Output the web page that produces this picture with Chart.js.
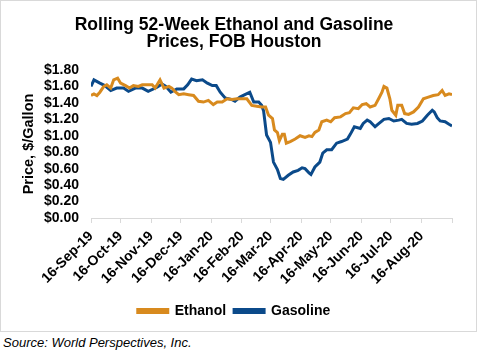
<!DOCTYPE html>
<html>
<head>
<meta charset="utf-8">
<script src="https://cdn.jsdelivr.net/npm/chart.js@4.4.0/dist/chart.umd.min.js"></script>
<style>
  body { margin: 0; background: #fff; }
  #frame { position: absolute; left: 0; top: 0; width: 477px; height: 332px; border: 1px solid #d9d9d9; box-sizing: border-box; }
  #wrap { position: absolute; left: 0; top: 0; width: 475px; height: 330px; }
  #source { position: absolute; left: 3px; top: 335px; font: italic 13px "Liberation Sans", Arial, sans-serif; line-height: 15px; color: #000; }
</style>
</head>
<body>
<div id="frame"><div id="wrap"><canvas id="priceChart"></canvas></div></div>
<div id="source">Source: World Perspectives, Inc.</div>
<script>
// x values are days since 16-Sep-2019
const startDate = Date.UTC(2019, 8, 16);

const tickDates = ['2019-09-16', '2019-10-16', '2019-11-16', '2019-12-16', '2020-01-16', '2020-02-16',
  '2020-03-16', '2020-04-16', '2020-05-16', '2020-06-16', '2020-07-16', '2020-08-16', '2020-09-16'];
const tickLabels = ['16-Sep-19', '16-Oct-19', '16-Nov-19', '16-Dec-19', '16-Jan-20', '16-Feb-20',
  '16-Mar-20', '16-Apr-20', '16-May-20', '16-Jun-20', '16-Jul-20', '16-Aug-20', ''];

const ethanolDays = [0, 3, 6, 9, 13, 16, 20, 23, 27, 30, 35, 39, 43, 48, 52, 57, 62, 65, 70, 74, 79, 82, 85, 89,
  94, 99, 104, 109, 114, 119, 124, 128, 133, 138, 143, 148, 153, 158, 163, 168, 173, 177, 180, 184, 186, 189,
  191, 194, 196, 198, 202, 207, 212, 217, 221, 224, 227, 231, 234, 239, 243, 247, 253, 258, 262, 266, 271,
  275, 279, 283, 288, 292, 295, 297, 300, 303, 305, 309, 311, 315, 318, 322, 327, 332, 337, 342, 347, 352,
  356, 359, 363, 366];
const ethanolPrice = [1.49, 1.51, 1.49, 1.53, 1.60, 1.62, 1.58, 1.68, 1.70, 1.64, 1.61, 1.58, 1.61, 1.60, 1.62,
  1.62, 1.62, 1.58, 1.68, 1.58, 1.60, 1.58, 1.54, 1.50, 1.51, 1.50, 1.49, 1.42, 1.41, 1.43, 1.38, 1.41, 1.41,
  1.45, 1.44, 1.45, 1.45, 1.45, 1.37, 1.36, 1.35, 1.35, 1.25, 1.21, 1.07, 1.04, 0.94, 1.02, 1.02, 0.91, 0.93,
  0.96, 1.00, 0.98, 1.00, 0.99, 1.04, 1.07, 1.17, 1.19, 1.17, 1.22, 1.23, 1.27, 1.28, 1.34, 1.33, 1.38, 1.39,
  1.35, 1.37, 1.46, 1.53, 1.60, 1.58, 1.45, 1.31, 1.25, 1.37, 1.37, 1.27, 1.26, 1.29, 1.35, 1.45, 1.47, 1.49,
  1.50, 1.55, 1.49, 1.51, 1.50];

const gasolineDays = [0, 3, 9, 14, 20, 26, 33, 38, 45, 52, 58, 67, 72, 76, 81, 87, 94, 98, 102, 107, 113, 118,
  123, 127, 131, 136, 143, 146, 151, 156, 161, 165, 170, 173, 175, 178, 182, 185, 189, 192, 195, 200, 205, 210,
  214, 217, 221, 223, 227, 232, 235, 239, 244, 249, 254, 260, 263, 267, 273, 276, 280, 283, 288, 292, 297, 302,
  307, 312, 315, 320, 325, 331, 336, 341, 346, 348, 351, 354, 359, 363, 366];
const gasolinePrice = [1.60, 1.68, 1.64, 1.61, 1.55, 1.58, 1.58, 1.54, 1.58, 1.58, 1.54, 1.59, 1.63, 1.60, 1.53,
  1.57, 1.57, 1.62, 1.69, 1.67, 1.68, 1.64, 1.61, 1.61, 1.53, 1.46, 1.44, 1.42, 1.47, 1.50, 1.53, 1.41, 1.41,
  1.37, 1.30, 1.01, 0.92, 0.68, 0.59, 0.48, 0.47, 0.52, 0.56, 0.58, 0.61, 0.60, 0.55, 0.53, 0.62, 0.68, 0.79,
  0.83, 0.83, 0.91, 0.93, 0.96, 1.02, 1.11, 1.09, 1.15, 1.19, 1.17, 1.11, 1.15, 1.20, 1.21, 1.18, 1.19, 1.20,
  1.15, 1.14, 1.15, 1.18, 1.25, 1.31, 1.29, 1.22, 1.18, 1.17, 1.14, 1.12];

const dayOf = d => Math.round((Date.parse(d) - startDate) / 86400000);
const tickDays = tickDates.map(dayOf);
const toPoints = (days, vals) => days.map((d, i) => ({ x: d, y: vals[i] }));

Chart.defaults.font.family = '"Liberation Sans", Arial, sans-serif';
Chart.defaults.color = '#000';

const ctx = document.getElementById('priceChart').getContext('2d');
new Chart(ctx, {
  type: 'line',
  data: {
    datasets: [
      { label: 'Ethanol', data: toPoints(ethanolDays, ethanolPrice), borderColor: '#D88A1E', backgroundColor: '#D88A1E', borderWidth: 3, pointRadius: 0, tension: 0 },
      { label: 'Gasoline', data: toPoints(gasolineDays, gasolinePrice), borderColor: '#0B4A8A', backgroundColor: '#0B4A8A', borderWidth: 3, pointRadius: 0, tension: 0 }
    ]
  },
  options: {
    responsive: true,
    maintainAspectRatio: false,
    animation: false,
    layout: { padding: { left: 15, right: 24, top: 0, bottom: 3 } },
    plugins: {
      title: {
        display: true,
        text: ['Rolling 52-Week Ethanol and Gasoline', 'Prices, FOB Houston'],
        font: { size: 17.5, weight: 'bold', lineHeight: 1.0 },
        color: '#000',
        padding: { top: 15, bottom: 19 }
      },
      legend: {
        position: 'bottom',
        labels: { boxWidth: 30, boxHeight: 3, padding: 8, font: { size: 14, weight: 'bold' }, color: '#000' }
      },
      tooltip: { enabled: false }
    },
    scales: {
      x: {
        type: 'linear',
        min: 0,
        max: 366,
        afterBuildTicks: scale => { scale.ticks = tickDays.map(v => ({ value: v })); },
        afterFit: scale => { scale.height = 78; },
        grid: { display: true, drawOnChartArea: false, drawTicks: true, tickLength: 5, color: '#d9d9d9' },
        border: { display: true, color: '#d9d9d9' },
        ticks: {
          autoSkip: false,
          minRotation: 45,
          maxRotation: 45,
          padding: 5,
          font: { size: 14, weight: 'bold' },
          callback: (v, i) => tickLabels[i]
        }
      },
      y: {
        min: 0,
        max: 1.8,
        afterFit: scale => { scale.width = 75; },
        grid: { display: false, drawTicks: false },
        border: { display: false },
        title: { display: true, text: 'Price, $/Gallon', font: { size: 14.5, weight: 'bold' }, color: '#000', padding: { top: 4, bottom: 4 } },
        ticks: {
          autoSkip: false,
          stepSize: 0.2,
          padding: 12,
          font: { size: 14, weight: 'bold' },
          callback: v => '$' + v.toFixed(2)
        }
      }
    }
  }
});
</script>
</body>
</html>
